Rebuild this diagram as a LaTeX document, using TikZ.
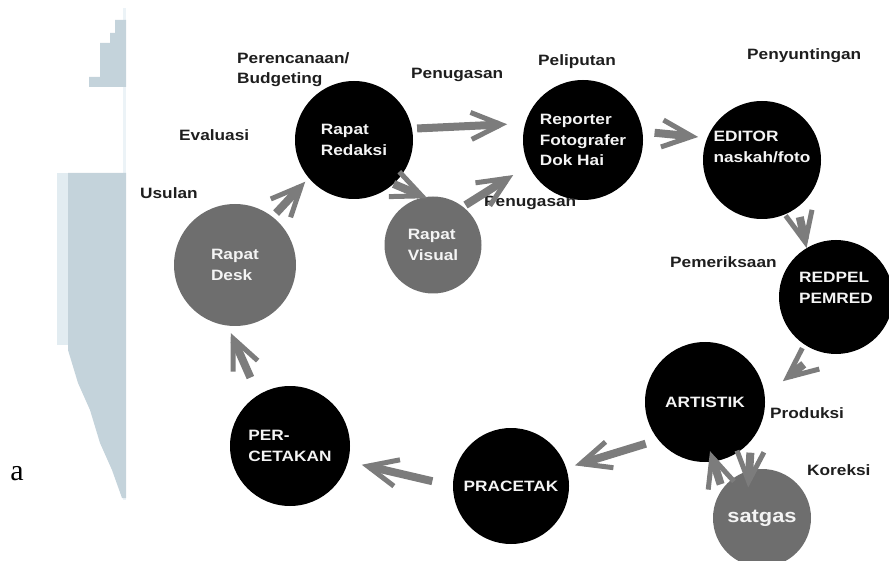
\documentclass[tikz,border=0pt]{standalone}
\usepackage{fontspec}
\setmainfont{Liberation Serif}
\newfontfamily\diafont{Liberation Sans}[FakeStretch=1.15]
\usetikzlibrary{arrows.meta}

\definecolor{wmblue}{RGB}{196,211,219}
\definecolor{wmpale}{RGB}{226,236,241}
\definecolor{wmline}{RGB}{236,243,247}
\definecolor{flowgray}{RGB}{124,124,124}
\definecolor{deskgray}{RGB}{110,110,110}
\definecolor{labelink}{RGB}{30,30,30}
\definecolor{stageink}{RGB}{244,244,244}

\begin{document}
\begin{tikzpicture}[x=1pt,y=-1pt,
  stagetext/.style={text=stageink,align=left,inner sep=0pt,
    font=\diafont\bfseries\fontsize{15}{20.5}\selectfont},
  stage/.style={circle,fill=black,stagetext},
  desk/.style={stage,fill=deskgray},
  phase/.style={anchor=west,text=labelink,align=left,inner sep=0pt,
    font=\diafont\bfseries\fontsize{15}{20}\selectfont},
  flow/.style={flowgray,line width=8pt,
    -{Straight Barb[length=30pt,width=27pt,line width=5pt]}}]
  \useasboundingbox (0,0) rectangle (889,561);

  % faded block on the left
  \fill[wmline] (123,8) rectangle (126,500);
  \fill[wmpale] (57,173) rectangle (68,345);
  \fill[wmblue] (68,173) -- (126,173) -- (126,498) -- (122,498) -- (112,470)
    -- (100,443) -- (90,410) -- (78,383) -- (68,350) -- cycle;
  \fill[wmblue] (126,20) -- (126,87) -- (89,87) -- (89,77) -- (100,77)
    -- (100,43) -- (110,43) -- (110,33) -- (115,33) -- (115,20) -- cycle;
  \node[font=\fontsize{30}{30}\selectfont,inner sep=0pt] (mark) at (17,474) {a};

  % stages
  \node[desk,minimum size=122pt] (rdesk) at (235,265) {Rapat\\Desk};
  \node[stage,minimum size=118pt] (redaksi) at (354,140) {Rapat\\Redaksi};
  \node[desk,minimum size=97pt] (visual) at (433,245) {Rapat\\Visual};
  \node[stage,minimum size=120pt] (reporter) at (583,140) {Reporter\\Fotografer\\Dok Hai};
  \node[stage,minimum size=118pt,
    label={[stagetext,yshift=13pt]center:{EDITOR\\naskah/foto}}] (editor) at (762,160) {};
  \node[stage,minimum size=114pt,
    label={[stagetext,yshift=9pt]center:{REDPEL\\PEMRED}}] (redpel) at (836,297) {};
  \node[stage,minimum size=120pt] (artistik) at (705,402) {ARTISTIK};
  \node[desk,minimum size=98pt,font=\diafont\bfseries\fontsize{19}{22}\selectfont]
    (satgas) at (762,518) {satgas};
  \node[stage,minimum size=116pt] (pracetak) at (511,486) {PRACETAK};
  \node[stage,minimum size=120pt] (percetakan) at (290,446) {PER-\\CETAKAN};

  % phase labels
  \node[phase] (lplan) at (237,70) {Perencanaan/\\Budgeting};
  \node[phase] (leval) at (179,135) {Evaluasi};
  \node[phase] (lusul) at (140,193) {Usulan};
  \node[phase] (ltugas) at (411,75) {Penugasan};
  \node[phase] (lliput) at (538,62) {Peliputan};
  \node[phase] (ltugasb) at (484,203) {Penugasan};
  \node[phase] (lsunting) at (747,56) {Penyuntingan};
  \node[phase] (lperiksa) at (670,262) {Pemeriksaan};
  \node[phase] (lproduksi) at (770,413) {Produksi};
  \node[phase] (lkoreksi) at (807,470) {Koreksi};

  \path[flow] (rdesk.52) edge[shorten <=5pt,shorten >=5pt] (redaksi.220)
    (redaksi.11) edge[shorten <=5pt,shorten >=18pt] (reporter.164)
    (redaksi.-48) edge[shorten >=-3pt] (visual.100)
    (visual.52) edge[shorten <=3pt,shorten >=18pt] (reporter.205)
    (reporter.8) edge[shorten <=12pt,shorten >=9pt] (editor.158)
    (editor.-53) edge[shorten <=10pt] (redpel.121)
    (redpel.253) edge[shorten <=20pt,shorten >=23pt] (artistik.6)
    (artistik.-40) edge[shorten <=12pt,shorten >=-17pt] (satgas.105)
    (satgas.144) edge[shorten <=5pt,shorten >=-11pt] (artistik.-82)
    (artistik.219) edge[shorten <=13pt,shorten >=9pt] (pracetak.18)
    (pracetak.180) edge[shorten <=21pt,shorten >=14pt] (percetakan.-15)
    (percetakan.122) edge[shorten <=19pt,shorten >=8pt] (rdesk.-97);
\end{tikzpicture}
\end{document}
